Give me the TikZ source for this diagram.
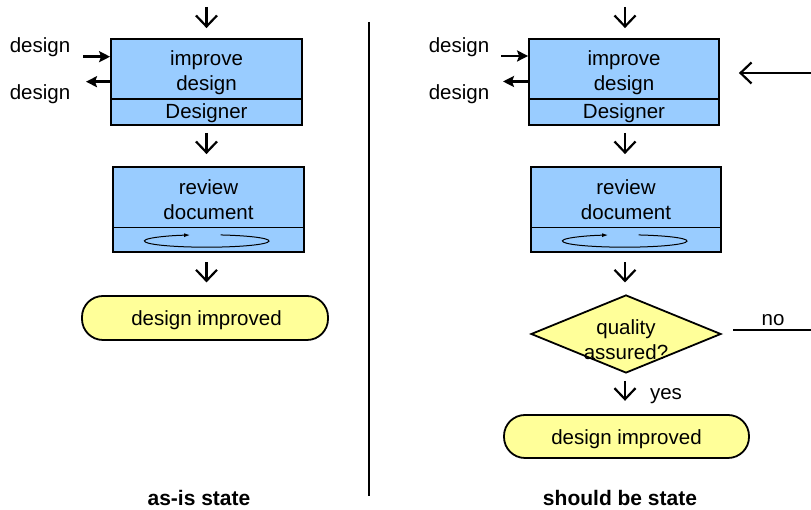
\documentclass[tikz,border=0pt]{standalone}
\usepackage{fontspec}
\setmainfont{Liberation Sans}
\usetikzlibrary{arrows.meta,shapes.geometric,calc}
\definecolor{procblue}{HTML}{99CCFF}
\definecolor{termyellow}{HTML}{FFFF99}
\begin{document}
\begin{tikzpicture}[x=1pt,y=1pt,
  every node/.style={font=\fontsize{20.5}{25}\selectfont, inner sep=0pt},
  procbox/.style={draw, line width=1.8pt, fill=procblue, minimum width=191pt, minimum height=86pt},
  termbox/.style={draw, line width=1.8pt, fill=termyellow, rounded corners=21pt, minimum width=246pt, minimum height=44pt},
  decision/.style={draw, line width=1.8pt, fill=termyellow, diamond, minimum width=190pt, minimum height=78pt, inner sep=0pt},
  divider/.style={line width=1.8pt},
  flowarrow/.style={line width=2.2pt, -{Straight Barb[length=11pt,width=21pt]}},
  iofarrow/.style={line width=2.6pt, -{Stealth[length=11pt,width=11pt,inset=2pt]}},
  cyclearc/.style={line width=1pt, -{Latex[length=6pt,width=4pt]}},
  boxtext/.style={align=center},
  statelbl/.style={font=\bfseries\fontsize{21}{25}\selectfont},
  ]
\useasboundingbox (0,0) rectangle (811,510);

% ---------------- left: as-is state ----------------
\node[procbox] (impL) at (206.5,428) {};
\node[boxtext] (impLt) at (206.5,437) {improve\\design};
\node (impLr) at (206.5,396.5) {Designer};
\draw[divider] ($(impL.west)+(0,-17)$) -- ($(impL.east)+(0,-17)$);

\node[procbox, minimum height=85pt] (revL) at (208.5,300.5) {};
\node[boxtext] (revLt) at (208.5,310.5) {review\\document};
\draw[divider] ($(revL.west)+(0,-18)$) -- ($(revL.east)+(0,-18)$);
\coordinate (ellL) at ($(revL.center)+(-1.8,-31.5)$);
\draw[cyclearc] ([shift={(77:62.3pt and 6.2pt)}]ellL) arc[start angle=77, end angle=-254.5, x radius=62.3pt, y radius=6.2pt];

\node[termbox] (endL) at (205,192) {};
\node (endLt) at (206.5,189.5) {design improved};

\coordinate (topL) at (206.5,503);
\draw[flowarrow, shorten >=10pt] (topL) -- (impL.north);
\draw[flowarrow, shorten <=7pt, shorten >=12pt] (impL.south) -- (impL.south |- revL.north);
\draw[flowarrow, shorten <=9.5pt, shorten >=12.7pt] (revL.south -| impL.south) -- (impL.south |- endL.north);

\coordinate (inL) at (83,453.3);
\coordinate (outL) at (86,428.3);
\node (dinL) at (40,463) {design};
\node (doutL) at (40,416) {design};
\draw[iofarrow] (inL) -- (impL.west |- inL);
\draw[iofarrow] (impL.west |- outL) -- (outL);

\node[statelbl] (asis) at (199,12.5) {as-is state};

% ---------------- separator ----------------
\coordinate (sepTop) at (369,488);
\coordinate (sepBot) at (369,14);
\draw[line width=1.5pt] (sepTop) -- (sepBot);

% ---------------- right: should be state ----------------
\node[procbox, minimum width=190pt] (impR) at (624,428) {};
\node[boxtext] (impRt) at (624,437) {improve\\design};
\node (impRr) at (624,396.5) {Designer};
\draw[divider] ($(impR.west)+(0,-17)$) -- ($(impR.east)+(0,-17)$);

\node[procbox, minimum width=190pt, minimum height=85pt] (revR) at (626,300.5) {};
\node[boxtext] (revRt) at (626,310.5) {review\\document};
\draw[divider] ($(revR.west)+(0,-18)$) -- ($(revR.east)+(0,-18)$);
\coordinate (ellR) at ($(revR.center)+(-1.3,-31.5)$);
\draw[cyclearc] ([shift={(77:62.3pt and 6.2pt)}]ellR) arc[start angle=77, end angle=-254.5, x radius=62.3pt, y radius=6.2pt];

\node[decision] (dec) at (626,176) {};
\node[boxtext] (decT) at (626,170.5) {quality\\assured?};

\node[termbox, minimum width=245pt, minimum height=43pt] (endR) at (626.5,73.5) {};
\node (endRt) at (626.5,71) {design improved};

\coordinate (topR) at (625,503);
\draw[flowarrow, shorten >=10pt] (topR) -- (topR |- impR.north);
\draw[flowarrow, shorten <=7pt, shorten >=12pt] (topR |- impR.south) -- (topR |- revR.north);
\draw[flowarrow, shorten <=9.5pt, shorten >=11.7pt] (topR |- revR.south) -- (topR |- dec.north);
\draw[flowarrow, shorten <=7pt, shorten >=13.3pt] (topR |- dec.south) -- (topR |- endR.north);
\node (yes) at (666,113.5) {yes};

\coordinate (noStart) at (733,180);
\coordinate (noEnd) at (811,180);
\draw[line width=2pt] (noStart) -- (noEnd);
\node (no) at (773,190) {no};

\coordinate (fbStart) at (811,437);
\draw[flowarrow, shorten >=19pt] (fbStart) -- (impR.east |- fbStart);

\coordinate (inR) at (501,454);
\coordinate (outR) at (503,428.5);
\node (dinR) at (459,463) {design};
\node (doutR) at (459,416) {design};
\draw[iofarrow] (inR) -- (impR.west |- inR);
\draw[iofarrow] (impR.west |- outR) -- (outR);

\node[statelbl] (should) at (620,12.5) {should be state};
\end{tikzpicture}
\end{document}
